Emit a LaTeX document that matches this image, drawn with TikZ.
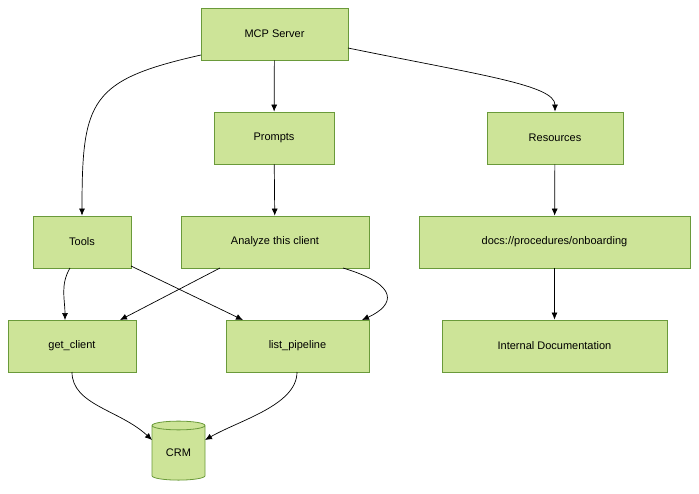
\documentclass[tikz,border=0pt]{standalone}
\usepackage{fontspec}
\setmainfont{Liberation Sans}
\usetikzlibrary{shapes.geometric,arrows.meta}
\definecolor{nfill}{HTML}{CDE498}
\definecolor{nline}{HTML}{6A9A3A}
\begin{document}
\begin{tikzpicture}[x=1pt,y=-1pt,
  box/.style={draw=nline,fill=nfill,line width=0.8pt,minimum height=52pt,font=\fontsize{11}{13}\selectfont,inner sep=0pt},
  cyl/.style={cylinder,shape border rotate=90,aspect=0.35,draw=nline,fill=nfill,line width=0.8pt,minimum width=53pt,minimum height=59pt,font=\fontsize{11}{13}\selectfont,inner sep=0pt},
  conn/.style={draw=black,line width=0.7pt,-{Latex[length=7pt,width=6pt]}}]
\useasboundingbox (0,0) rectangle (699,493);
\node[box,minimum width=147pt] (mcp) at (274.5,34) {MCP Server};
\node[box,minimum width=120pt] (prompts) at (274,138) {Prompts};
\node[box,minimum width=136pt] (res) at (555,138) {Resources};
\node[box,minimum width=98pt] (tools) at (82,242) {Tools};
\node[box,minimum width=188pt] (an) at (275,242) {Analyze this client};
\node[box,minimum width=271pt] (docs) at (554.5,242) {docs://procedures/onboarding};
\node[box,minimum width=128pt] (gc) at (72,346) {get\_client};
\node[box,minimum width=143pt] (lp) at (297.5,346) {list\_pipeline};
\node[box,minimum width=225pt] (idoc) at (554.5,346) {Internal Documentation};
\node[cyl] (crm) at (178.5,453) {CRM};
\coordinate (a1) at (201,55);
\draw[conn] (a1) .. controls (90,80) and (82,100) .. (tools.north);
\draw[conn] (mcp) -- (prompts);
\coordinate (a2) at (348,48);
\draw[conn] (a2) .. controls (480,75) and (555,85) .. (res.north);
\draw[conn] (prompts) -- (an);
\draw[conn] (res) -- (docs);
\draw[conn] (docs) -- (idoc);
\coordinate (t1) at (70,268); \coordinate (g1) at (65,320);
\draw[conn] (t1) .. controls (60,285) and (65,300) .. (g1);
\coordinate (t2) at (131,266); \coordinate (l1) at (243,320);
\draw[conn] (t2) -- (l1);
\coordinate (an1) at (220,268); \coordinate (g2) at (120,320);
\draw[conn] (an1) -- (g2);
\coordinate (an2) at (343,268); \coordinate (l2) at (362,320);
\draw[conn] (an2) .. controls (400,285) and (395,305) .. (l2);
\coordinate (g3) at (72,372); \coordinate (c1) at (152,440);
\draw[conn] (g3) .. controls (72,405) and (120,410) .. (c1);
\coordinate (l3) at (297,372); \coordinate (c2) at (205,440);
\draw[conn] (l3) .. controls (297,405) and (240,420) .. (c2);
\end{tikzpicture}
\end{document}
